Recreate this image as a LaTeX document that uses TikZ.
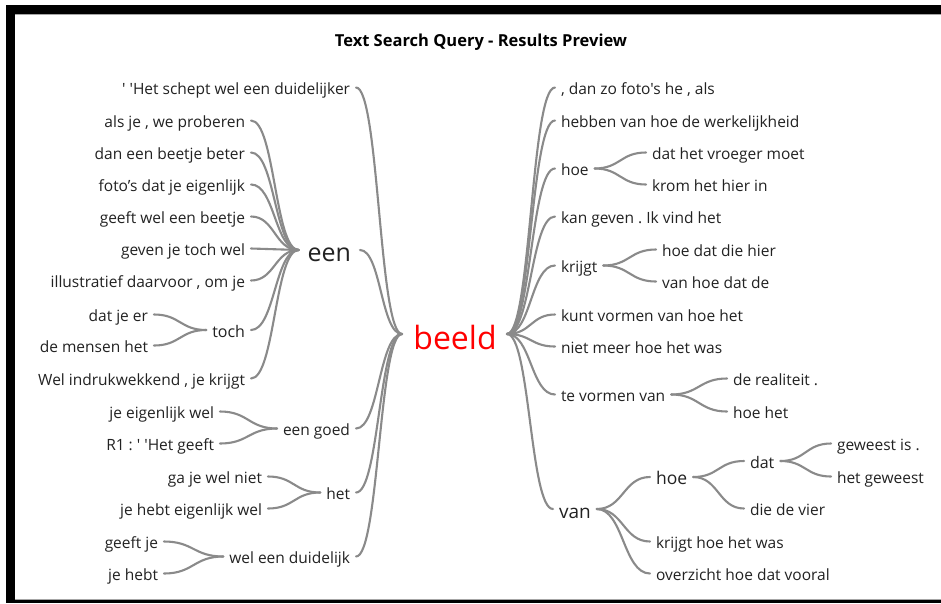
\documentclass[tikz,border=0pt]{standalone}
\usepackage{fontspec}
\newfontfamily\osans{Open Sans}
\usetikzlibrary{calc}
\frenchspacing
\definecolor{txt}{HTML}{222222}
\definecolor{lnk}{HTML}{8A8A8A}
\tikzset{
  lt/.style={font=\osans\fontsize{15.5}{18}\selectfont, text=txt, inner sep=0pt, outer sep=6pt, text height=17.2pt, text depth=3pt},
  ltL/.style={lt, anchor=east},
  ltR/.style={lt, anchor=west},
  conn/.style={draw=lnk, line width=2.1pt, line cap=round},
}
\newcommand\lk[2]{\draw[conn] let \p1=(#1), \p2=(#2), \n1={0.5*(\x2-\x1)} in (\p1) .. controls +(\n1,0) and +(-\n1,0) .. (\p2);}
\begin{document}
\begin{tikzpicture}[x=1pt,y=-1pt]
\useasboundingbox (0,0) rectangle (941,603);
\fill[white] (0,0) rectangle (941,603);
% frame
\fill[black] (6,5) rectangle (941,14);
\fill[black] (6,5) rectangle (15,603);
\fill[black] (6,600) rectangle (941,603);
\draw[gray!70, line width=1pt] (15,14.5) -- (941,14.5);
\draw[gray!70, line width=1pt] (15,599) -- (941,599);
% title
\node[font=\osans\bfseries\fontsize{16.5}{19}\selectfont, text=black] (title) at (481,42) {Text Search Query - Results Preview};
% center
\node[font=\osans\fontsize{32}{36}\selectfont, text=red, inner sep=0pt] (beeld) at (455,337) {beeld};
\coordinate (bl) at (402,334);
\coordinate (br) at (507,334);
% left level 1
\node[ltL] (a1) at (356,87.5) {' 'Het schept wel een duidelijker};
\node[ltL, font=\osans\fontsize{25}{28}\selectfont, text height=26pt, text depth=3pt, outer sep=9pt] (een) at (360,250) {een};
\node[ltL] (egoed) at (356,428.5) {een goed};
\node[ltL] (het) at (356,492.5) {het};
\node[ltL] (wed) at (356,556.5) {wel een duidelijk};
% een children
\node[ltL] (e1) at (251,120.5) {als je , we proberen};
\node[ltL] (e2) at (251,152.5) {dan een beetje beter};
\node[ltL] (e3) at (251,184.5) {foto’s dat je eigenlijk};
\node[ltL] (e4) at (251,216.5) {geeft wel een beetje};
\node[ltL] (e5) at (251,248.5) {geven je toch wel};
\node[ltL] (e6) at (251,280.5) {illustratief daarvoor , om je};
\node[ltL, font=\osans\fontsize{16}{19}\selectfont, text height=18.2pt] (toch) at (251,330) {toch};
\node[ltL] (e8) at (251,378.5) {Wel indrukwekkend , je krijgt};
% toch children
\node[ltL] (t1) at (154,314.5) {dat je er};
\node[ltL] (t2) at (154,345.5) {de mensen het};
% een goed children
\node[ltL] (g1) at (220,411.5) {je eigenlijk wel};
\node[ltL] (g2) at (220,443.5) {R1 : ' 'Het geeft};
% het children
\node[ltL] (h1) at (268,476.5) {ga je wel niet};
\node[ltL] (h2) at (268,508.5) {je hebt eigenlijk wel};
% wel een duidelijk children
\node[ltL] (w1) at (164,541.5) {geeft je};
\node[ltL] (w2) at (164,573.5) {je hebt};
% right level 1
\node[ltR] (r1) at (555,87.5) {, dan zo foto's he , als};
\node[ltR] (r2) at (555,120.5) {hebben van hoe de werkelijkheid};
\node[ltR] (hoeA) at (555,168.5) {hoe};
\node[ltR] (r4) at (555,216.5) {kan geven . Ik vind het};
\node[ltR] (krijgt) at (555,265.5) {krijgt};
\node[ltR] (r6) at (555,314.5) {kunt vormen van hoe het};
\node[ltR] (r7) at (555,346.5) {niet meer hoe het was};
\node[ltR] (tvv) at (555,394.5) {te vormen van};
\node[ltR, font=\osans\fontsize{19}{22}\selectfont, text height=22.2pt] (van) at (553,509) {van};
% hoe children
\node[ltR] (hA1) at (646,152.5) {dat het vroeger moet};
\node[ltR] (hA2) at (646,184.5) {krom het hier in};
% krijgt children
\node[ltR] (k1) at (656,249.5) {hoe dat die hier};
\node[ltR] (k2) at (656,281.5) {van hoe dat de};
% te vormen van children
\node[ltR] (v1) at (727,378.5) {de realiteit .};
\node[ltR] (v2) at (727,411.5) {hoe het};
% van children
\node[ltR, font=\osans\fontsize{17.5}{20}\selectfont, text height=18.2pt] (hoeB) at (650,477) {hoe};
\node[ltR] (vn2) at (650,541.5) {krijgt hoe het was};
\node[ltR] (vn3) at (650,573.5) {overzicht hoe dat vooral};
\node[ltR, font=\osans\fontsize{16}{19}\selectfont, text height=18.2pt] (dat) at (744,461) {dat};
\node[ltR] (hb2) at (744,508.5) {die de vier};
\node[ltR] (d1) at (831,443.5) {geweest is .};
\node[ltR] (d2) at (831,476.5) {het geweest};
% connectors left
\lk{a1.east}{bl}
\lk{een.east}{bl}
\lk{egoed.east}{bl}
\lk{het.east}{bl}
\lk{wed.east}{bl}
\foreach \c in {e1,e2,e3,e4,e5,e6,toch,e8} {\lk{\c.east}{een.west}}
\lk{t1.east}{toch.west}
\lk{t2.east}{toch.west}
\lk{g1.east}{egoed.west}
\lk{g2.east}{egoed.west}
\lk{h1.east}{het.west}
\lk{h2.east}{het.west}
\lk{w1.east}{wed.west}
\lk{w2.east}{wed.west}
% connectors right
\foreach \c in {r1,r2,hoeA,r4,krijgt,r6,r7,tvv,van} {\lk{br}{\c.west}}
\lk{hoeA.east}{hA1.west}
\lk{hoeA.east}{hA2.west}
\lk{krijgt.east}{k1.west}
\lk{krijgt.east}{k2.west}
\lk{tvv.east}{v1.west}
\lk{tvv.east}{v2.west}
\lk{van.east}{hoeB.west}
\lk{van.east}{vn2.west}
\lk{van.east}{vn3.west}
\lk{hoeB.east}{dat.west}
\lk{hoeB.east}{hb2.west}
\lk{dat.east}{d1.west}
\lk{dat.east}{d2.west}
\end{tikzpicture}
\end{document}
